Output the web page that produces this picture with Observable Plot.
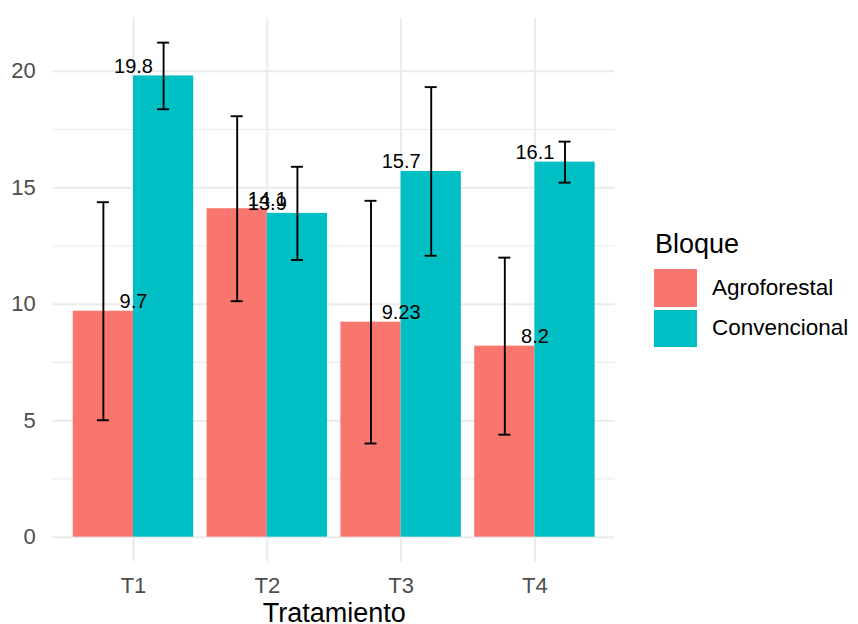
<!DOCTYPE html>
<html>
<head>
<meta charset="utf-8">
<script src="https://cdn.jsdelivr.net/npm/d3@7"></script>
<script src="https://cdn.jsdelivr.net/npm/@observablehq/plot@0.6"></script>
<style>
  html, body { margin: 0; padding: 0; background: #fff; }
  #wrap { position: relative; width: 858px; height: 624px; font-family: "Liberation Sans", Arial, sans-serif; }
  #legend { position: absolute; left: 654px; top: 229px; }
  #legend .title { font-size: 27px; line-height: 30px; color: #000; margin-left: 1px; height: 40px; }
  #legend .row { display: flex; align-items: center; height: 37.5px; margin-bottom: 3px; }
  #legend .key { width: 43px; height: 37.5px; }
  #legend .lab { font-size: 22.5px; color: #000; margin-left: 15px; }
</style>
</head>
<body>
<div id="wrap"><div id="chart"></div><div id="legend"></div></div>
<script>
// ---- data ----
const tratamientos = ["T1", "T2", "T3", "T4"];
const bloques = ["Agroforestal", "Convencional"];
const colores = ["#F8766D", "#00BFC4"];
const mediaAgroforestal = [9.7, 14.1, 9.23, 8.2];
const mediaConvencional = [19.8, 13.9, 15.7, 16.1];
const errorAgroforestal = [4.68, 3.97, 5.21, 3.8];
const errorConvencional = [1.43, 2.0, 3.62, 0.88];
const yTicks = [0, 5, 10, 15, 20];
const yMinor = [2.5, 7.5, 12.5, 17.5];
const xTitle = "Tratamiento";
const legendTitle = "Bloque";

const medias = {Agroforestal: mediaAgroforestal, Convencional: mediaConvencional};
const errores = {Agroforestal: errorAgroforestal, Convencional: errorConvencional};
const data = bloques.flatMap(b => tratamientos.map((t, i) => ({
  trat: t, bloque: b, mean: medias[b][i], lo: medias[b][i] - errores[b][i], hi: medias[b][i] + errores[b][i]
})));

// ggplot-like expansion of y
const yMax = d3.max(data, d => d.hi);
const yMin = Math.min(0, d3.min(data, d => d.lo));
const ext = (yMax - yMin) * 0.05;

const W = 858, H = 624, mL = 52.7, mR = 243.3, mT = 17.4, mB = 62.6;
const pIn = 0.1, pOut = 0.15;
const step = (W - mL - mR) / (tratamientos.length - pIn + 2 * pOut);
const bw = step * (1 - pIn);
const capHalf = 6;

const marks = [
  Plot.gridY(yMinor, {stroke: "#EBEBEB", strokeOpacity: 1, strokeWidth: 1.2}),
  Plot.gridY(yTicks, {stroke: "#EBEBEB", strokeOpacity: 1, strokeWidth: 2}),
  Plot.gridX(tratamientos, {stroke: "#EBEBEB", strokeOpacity: 1, strokeWidth: 2})
];
bloques.forEach((b, k) => {
  const sub = data.filter(d => d.bloque === b);
  const left = k === 0;
  marks.push(Plot.barY(sub, {x: "trat", y: "mean", fill: "bloque",
    insetLeft: left ? 0 : bw / 2, insetRight: left ? bw / 2 : 0}));
});
bloques.forEach((b, k) => {
  const sub = data.filter(d => d.bloque === b);
  const off = k === 0 ? -bw / 4 : bw / 4;
  marks.push(Plot.ruleX(sub, {x: "trat", y1: "lo", y2: "hi", dx: off, stroke: "#000", strokeWidth: 1.9}));
  const iL = bw / 2 + off - capHalf, iR = bw / 2 - off - capHalf;
  marks.push(Plot.tickY(sub, {x: "trat", y: "lo", insetLeft: iL, insetRight: iR, stroke: "#000", strokeWidth: 1.9}));
  marks.push(Plot.tickY(sub, {x: "trat", y: "hi", insetLeft: iL, insetRight: iR, stroke: "#000", strokeWidth: 1.9}));
});
marks.push(Plot.text(data, {x: "trat", y: "mean", text: d => String(d.mean), lineAnchor: "bottom", dy: -3, fontSize: 20, fill: "#000"}));
marks.push(Plot.axisY(yTicks, {tickSize: 0, tickPadding: 17.5, fontSize: 22, color: "#4D4D4D", label: null}));
marks.push(Plot.axisX({tickSize: 0, tickPadding: 15.5, fontSize: 22, color: "#4D4D4D", label: null}));
marks.push(Plot.text([xTitle], {frameAnchor: "bottom", text: d => d, lineAnchor: "bottom", dy: 60, fontSize: 27, fill: "#000"}));

const chart = Plot.plot({
  width: W, height: H, marginLeft: mL, marginRight: mR, marginTop: mT, marginBottom: mB,
  style: {fontFamily: "'Liberation Sans', Arial, sans-serif", background: "#fff"},
  x: {domain: tratamientos, paddingInner: pIn, paddingOuter: pOut, round: false, axis: null},
  y: {domain: [yMin - ext, yMax + ext], axis: null},
  color: {domain: bloques, range: colores},
  marks
});
document.getElementById("chart").appendChild(chart);

// legend
const lg = document.getElementById("legend");
const t = document.createElement("div"); t.className = "title"; t.textContent = legendTitle; lg.appendChild(t);
bloques.forEach((b, i) => {
  const r = document.createElement("div"); r.className = "row";
  const k = document.createElement("div"); k.className = "key"; k.style.background = colores[i];
  const l = document.createElement("div"); l.className = "lab"; l.textContent = b;
  r.appendChild(k); r.appendChild(l); lg.appendChild(r);
});
</script>
</body>
</html>
